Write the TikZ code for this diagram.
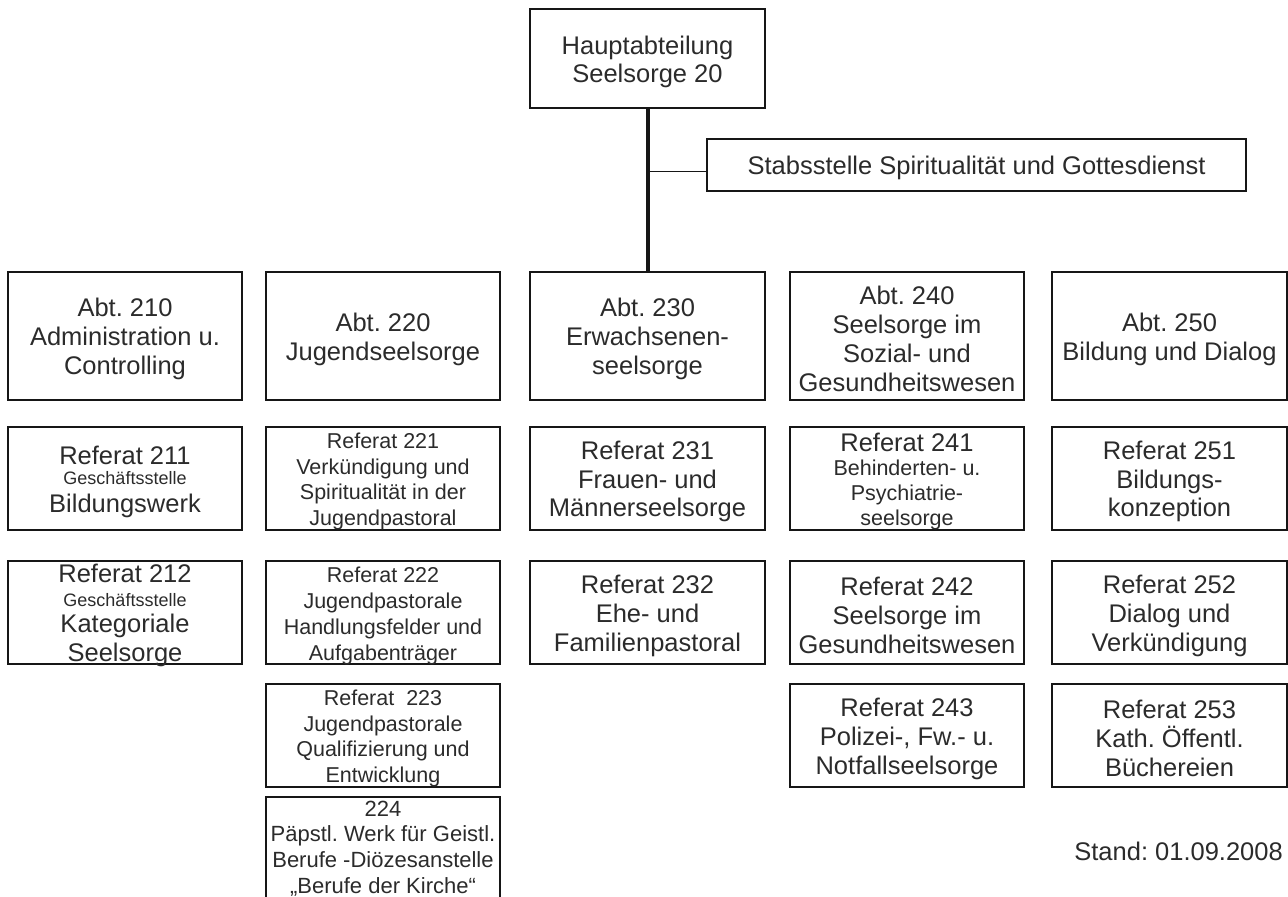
\documentclass[tikz,border=0pt]{standalone}
\usepackage{fontspec}
\setmainfont{Liberation Sans}
\frenchspacing
\definecolor{txt}{HTML}{2B2B2B}
\definecolor{linec}{HTML}{161616}
\newcommand\myfs[2]{\fontsize{#1}{#2}\selectfont}
% \obox[text options]{name}{x}{y}{width}{height}{text}
\newcommand\obox[7][]{%
  \node[frame, minimum width=#5pt, minimum height=#6pt] (#2) at (#3,#4) {};
  \node[lbl, #1] (#2t) at (#2.center) {#7};}
\begin{document}
\begin{tikzpicture}[x=1pt,y=-1pt,
  frame/.style={draw=linec, line width=1.8pt, inner sep=0pt},
  lbl/.style={inner sep=0pt, align=center, text=txt, yshift=-3pt, font=\myfs{25.5}{29}},
  small/.style={font=\myfs{21.5}{25.8}}
]
\useasboundingbox (0,0) rectangle (1288,897);
\clip (0,0) rectangle (1288,897);

% top
\obox[font=\myfs{25.5}{28}]{hs}{647.5}{58.5}{235}{99}{Hauptabteilung\\Seelsorge 20}
\obox{stab}{976.5}{165}{539}{52}{Stabsstelle Spiritualität und Gottesdienst}

% row A
\obox{a210}{125}{336}{234}{128}{Abt. 210\\Administration u.\\Controlling}
\obox{a220}{383}{336}{234}{128}{Abt. 220\\Jugendseelsorge}
\obox{a230}{647.5}{336}{235}{128}{Abt. 230\\Erwachsenen-\\seelsorge}
\obox{a240}{907}{336}{234}{128}{Abt. 240\\Seelsorge im\\Sozial- und\\Gesundheitswesen}
\obox{a250}{1169.5}{336}{235}{128}{Abt. 250\\Bildung und Dialog}

% column 1
\obox[font=\myfs{25.5}{24.5}]{r211}{125}{478.5}{234}{103}{Referat 211\\[-4pt]{\myfs{18}{20}Geschäftsstelle}\\[3pt]Bildungswerk}
\obox[font=\myfs{25.5}{25}]{r212}{125}{612.5}{234}{103}{Referat 212\\[-1pt]{\myfs{18}{20}Geschäftsstelle}\\[1pt]Kategoriale\\[4pt]Seelsorge}

% column 2
\obox[small, font=\myfs{21.5}{25.6}]{r221}{383}{478.5}{234}{103}{Referat 221\\Verkündigung und\\Spiritualität in der\\Jugendpastoral}
\obox[small, font=\myfs{21.5}{26}]{r222}{383}{612.5}{234}{103}{Referat 222\\Jugendpastorale\\Handlungsfelder und\\Aufgabenträger}
\obox[small]{r223}{383}{735.5}{234}{103}{Referat\ \ 223\\Jugendpastorale\\Qualifizierung und\\Entwicklung}
\obox[font=\myfs{22}{25.6}, yshift=2pt]{r224}{383}{847.5}{234}{101}{224\\Päpstl. Werk für Geistl.\\Berufe -Diözesanstelle\\„Berufe der Kirche“}

% column 3
\obox[font=\myfs{25.5}{28.7}]{r231}{647.5}{478.5}{235}{103}{Referat 231\\Frauen- und\\Männerseelsorge}
\obox{r232}{647.5}{612.5}{235}{103}{Referat 232\\Ehe- und\\Familienpastoral}

% column 4
\obox[small, font=\myfs{21.5}{25.7}]{r241}{907}{478.5}{234}{103}{{\myfs{25.5}{29}Referat 241}\\[-2pt]Behinderten- u.\\Psychiatrie-\\[-1pt]seelsorge}
\obox[font=\myfs{25.5}{28.7}]{r242}{907}{612.5}{234}{103}{Referat 242\\Seelsorge im\\Gesundheitswesen}
\obox{r243}{907}{735.5}{234}{103}{Referat 243\\Polizei-, Fw.- u.\\Notfallseelsorge}

% column 5
\obox[font=\myfs{25.5}{28.7}]{r251}{1169.5}{478.5}{235}{103}{Referat 251\\Bildungs-\\konzeption}
\obox{r252}{1169.5}{612.5}{235}{103}{Referat 252\\Dialog und\\Verkündigung}
\obox{r253}{1169.5}{735.5}{235}{103}{Referat 253\\Kath. Öffentl.\\Büchereien}

% date
\node[anchor=east, inner sep=0pt, text=txt, font=\myfs{25.5}{29}] (stand) at (1283,851) {Stand: 01.09.2008};

% connectors
\draw[linec, line width=4pt] (hs.south) -- (a230.north);
\coordinate (j) at (647.5,171);
\draw[linec, line width=1pt] (j) -- (j -| stab.west);
\end{tikzpicture}
\end{document}
